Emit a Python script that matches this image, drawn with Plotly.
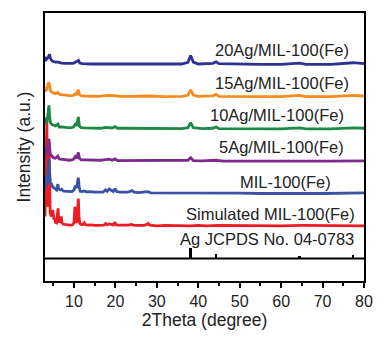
import plotly.graph_objects as go

# ---------------- data ----------------
names = ["Simulated MIL-100(Fe)", "MIL-100(Fe)", "5Ag/MIL-100(Fe)",
         "10Ag/MIL-100(Fe)", "15Ag/MIL-100(Fe)", "20Ag/MIL-100(Fe)"]
offsets = [1, 2, 3, 4, 5, 6]
colors = ["#ed1c24", "#3a53a4", "#7d2b8b", "#1b8a44", "#f58a1f", "#2e3192"]

sim_x = [3.0, 3.2, 3.35, 3.45, 3.55, 3.7, 3.85, 4.0, 4.1, 4.25, 4.5, 4.7, 4.85, 5.0, 5.2, 5.35,
         5.5, 5.8, 6.0, 6.15, 6.3, 6.5, 6.7, 6.9, 7.1, 7.4, 7.8, 8.3, 9.0, 9.6, 10.0, 10.2, 10.35,
         10.5, 10.7, 10.9, 11.05, 11.2, 11.4, 11.7, 12.1, 12.5, 12.8, 13.3, 14.0, 15.0, 16.0, 17.2,
         17.6, 18.0, 18.5, 19.0, 19.5, 19.9, 20.1, 20.4, 21.0, 22.0, 23.0, 24.0, 24.3, 25.0, 26.0,
         27.0, 27.6, 27.9, 28.3, 29.0, 30.0, 32.0, 34.0, 36.0, 38.0, 40.0, 42.0, 45.0, 50.0, 55.0,
         60.0, 65.0, 70.0, 75.0, 80.0]
sim_y = [0.3, 1.5, 3.3, 3.3, 1.2, 0.6, 1.8, 2.6, 1.5, 0.4, 0.3, 0.35, 0.5, 0.25, 0.2, 0.25,
         0.12, 0.1, 0.3, 0.55, 0.2, 0.12, 0.15, 0.3, 0.1, 0.06, 0.05, 0.04, 0.03, 0.04, 0.1, 0.6, 0.35,
         0.1, 0.15, 0.5, 0.85, 0.3, 0.08, 0.05, 0.04, 0.1, 0.04, 0.03, 0.04, 0.02, 0.03, 0.03,
         0.08, 0.04, 0.07, 0.05, 0.04, 0.12, 0.05, 0.03, 0.03, 0.02, 0.03, 0.05, 0.03, 0.02, 0.03,
         0.02, 0.06, 0.08, 0.03, 0.02, 0.01, 0.02, 0.01, 0.02, 0.01, 0.02, 0.01, 0.02, 0.01, 0.02,
         0.01, 0.02, 0.01, 0.02, 0.01]

mil_x = [3.0, 3.2, 3.4, 3.55, 3.75, 3.95, 4.1, 4.3, 4.6, 4.9, 5.2, 5.5, 5.8, 6.1, 6.3, 6.7, 7.0,
         7.5, 8.0, 8.5, 9.0, 9.5, 10.0, 10.3, 10.6, 10.9, 11.05, 11.25, 11.5, 12.0, 12.5, 13.0, 14.0,
         15.0, 16.0, 17.0, 17.6, 18.0, 18.5, 19.0, 19.5, 19.9, 20.3, 21.0, 22.0, 23.0, 24.0, 24.5,
         25.5, 26.5, 27.8, 28.5, 30.0, 32.0, 34.0, 36.0, 38.0, 40.0, 43.0, 46.0, 50.0, 55.0, 60.0,
         65.0, 70.0, 75.0, 80.0]
mil_y = [0.15, 0.4, 0.55, 0.3, 0.6, 1.1, 0.7, 0.35, 0.3, 0.2, 0.18, 0.15, 0.12, 0.3, 0.15, 0.12, 0.14,
         0.08, 0.08, 0.07, 0.06, 0.07, 0.12, 0.25, 0.18, 0.4, 0.5, 0.2, 0.08, 0.07, 0.09, 0.06, 0.07,
         0.05, 0.06, 0.05, 0.12, 0.08, 0.15, 0.1, 0.07, 0.16, 0.07, 0.05, 0.04, 0.05, 0.1, 0.05,
         0.04, 0.05, 0.07, 0.03, 0.03, 0.04, 0.02, 0.03, 0.02, 0.03, 0.02, 0.02, 0.02, 0.01, 0.02,
         0.01, 0.01, 0.01, 0.03]

ag5_x = [3.0, 3.2, 3.4, 3.55, 3.75, 3.95, 4.1, 4.3, 4.6, 5.0, 5.5, 6.1, 6.4, 7.0, 8.0, 9.0, 9.8,
         10.3, 10.6, 10.9, 11.05, 11.3, 11.7, 12.5, 14.0, 15.0, 16.5, 17.6, 18.5, 19.2, 19.9, 20.5,
         22.0, 24.0, 26.0, 28.0, 30.0, 33.0, 36.0, 37.5, 38.15, 38.8, 41.0, 44.3, 46.0, 50.0, 55.0,
         60.0, 64.4, 68.0, 72.0, 77.4, 80.0]
ag5_y = [0.1, 0.3, 0.45, 0.3, 0.5, 0.7, 0.45, 0.2, 0.18, 0.12, 0.1, 0.17, 0.08, 0.07, 0.05, 0.04, 0.06,
         0.15, 0.1, 0.22, 0.28, 0.1, 0.05, 0.05, 0.04, 0.03, 0.04, 0.06, 0.07, 0.04, 0.08, 0.03,
         0.03, 0.04, 0.03, 0.04, 0.02, 0.03, 0.02, 0.04, 0.12, 0.03, 0.02, 0.04, 0.01, 0.02, 0.01,
         0.01, 0.02, 0.01, 0.01, 0.02, 0.02]

ag10_x = [3.0, 3.2, 3.35, 3.55, 3.75, 3.95, 4.1, 4.3, 4.6, 5.0, 5.5, 6.1, 6.4, 7.0, 8.0, 9.0, 9.8,
          10.3, 10.6, 10.9, 11.05, 11.3, 11.7, 12.5, 14.0, 15.0, 16.5, 17.6, 18.5, 19.2, 19.9, 20.5,
          22.0, 24.0, 26.0, 28.0, 30.0, 33.0, 36.0, 37.5, 38.15, 38.8, 41.0, 43.5, 44.3, 45.0, 50.0,
          55.0, 60.0, 64.4, 66.0, 72.0, 77.4, 80.0]
ag10_y = [0.15, 0.37, 0.2, 0.3, 0.5, 0.74, 0.45, 0.2, 0.15, 0.12, 0.1, 0.16, 0.07, 0.07, 0.05, 0.04, 0.06,
          0.15, 0.1, 0.28, 0.38, 0.1, 0.05, 0.04, 0.04, 0.03, 0.03, 0.06, 0.06, 0.04, 0.08, 0.03,
          0.03, 0.03, 0.02, 0.04, 0.02, 0.03, 0.02, 0.05, 0.2, 0.05, 0.02, 0.03, 0.07, 0.02, 0.01,
          0.01, 0.01, 0.04, 0.01, 0.01, 0.04, 0.03]

ag15_x = [3.0, 3.2, 3.35, 3.6, 3.85, 4.05, 4.3, 4.6, 5.0, 5.5, 6.1, 6.5, 7.0, 8.0, 9.0, 9.8, 10.3,
          10.6, 10.9, 11.05, 11.3, 11.7, 12.5, 14.0, 16.0, 17.6, 18.5, 19.9, 21.0, 24.0, 28.0, 32.0,
          36.0, 37.5, 38.15, 38.8, 40.0, 43.5, 44.3, 45.0, 50.0, 55.0, 60.0, 64.4, 66.0, 72.0, 77.4, 80.0]
ag15_y = [0.15, 0.3, 0.2, 0.3, 0.45, 0.4, 0.2, 0.15, 0.12, 0.1, 0.14, 0.08, 0.07, 0.05, 0.04, 0.05, 0.1,
          0.08, 0.15, 0.22, 0.07, 0.04, 0.03, 0.02, 0.02, 0.04, 0.05, 0.04, 0.02, 0.02, 0.03, 0.01,
          0.02, 0.05, 0.22, 0.06, 0.02, 0.03, 0.08, 0.02, 0.01, 0.01, 0.01, 0.05, 0.01, 0.01, 0.05, 0.03]

ag20_x = [3.0, 3.2, 3.5, 3.8, 4.1, 4.3, 4.6, 5.0, 5.5, 6.2, 7.0, 8.0, 9.0, 9.8, 10.4, 10.9, 11.1,
          11.4, 12.0, 14.0, 16.0, 18.0, 20.0, 24.0, 28.0, 32.0, 36.0, 37.5, 38.15, 38.8, 40.0, 43.5,
          44.3, 45.0, 50.0, 55.0, 60.0, 64.4, 66.0, 72.0, 77.4, 80.0]
ag20_y = [0.1, 0.2, 0.18, 0.25, 0.32, 0.2, 0.13, 0.1, 0.08, 0.08, 0.05, 0.04, 0.03, 0.04, 0.08, 0.12, 0.13,
          0.05, 0.03, 0.02, 0.02, 0.02, 0.02, 0.02, 0.02, 0.01, 0.02, 0.07, 0.28, 0.08, 0.02, 0.04,
          0.09, 0.03, 0.01, 0.01, 0.01, 0.05, 0.01, 0.01, 0.06, 0.03]

series_x = [sim_x, mil_x, ag5_x, ag10_x, ag15_x, ag20_x]
series_y = [sim_y, mil_y, ag5_y, ag10_y, ag15_y, ag20_y]

ag_ref_pos = [38.1, 44.3, 64.4, 77.4]
ag_ref_int = [0.31, 0.15, 0.08, 0.09]
ag_ref_label = "Ag JCPDS No. 04-0783"

x_ticks = [10, 20, 30, 40, 50, 60, 70, 80]

# label placement (data coords)
label_x = [57.45, 60.96, 60.1, 58.9, 60.1, 60.1]
label_y = [1.39, 2.37, 3.46, 4.44, 5.42, 6.45]

# ---------------- figure ----------------
FONT = "Arial, Liberation Sans, sans-serif"
fig = go.Figure()

for xs, ys, off, col, nm in zip(series_x, series_y, offsets, colors, names):
    fig.add_trace(go.Scatter(x=xs, y=[v + off for v in ys], mode="lines",
                             line=dict(color=col, width=2.8), name=nm,
                             showlegend=False, hoverinfo="skip"))

fig.add_trace(go.Bar(x=ag_ref_pos, y=ag_ref_int, width=0.55, base=0,
                     marker=dict(color="black", line=dict(width=0)),
                     showlegend=False, hoverinfo="skip"))

fig.add_shape(type="line", xref="paper", x0=0, x1=1, yref="y", y0=0, y1=0,
              line=dict(color="black", width=2))

for nm, lx, ly in zip(names, label_x, label_y):
    fig.add_annotation(x=lx, y=ly, text=nm, showarrow=False, xanchor="center",
                       yanchor="middle", font=dict(family=FONT, size=16.5, color="#222"))
fig.add_annotation(x=56.7, y=0.59, text=ag_ref_label, showarrow=False, xanchor="center",
                   yanchor="middle", font=dict(family=FONT, size=16.5, color="#222"))

# page body has an 8px margin, so the figure is drawn 8px in from the window edge
fig.update_layout(
    width=379, height=330,
    margin=dict(l=37, r=23, t=5, b=57, autoexpand=False),
    paper_bgcolor="white", plot_bgcolor="white",
    font=dict(family=FONT, color="#222"),
    bargap=0,
)
fig.update_xaxes(range=[3, 80], tickvals=x_ticks, ticks="outside", ticklen=5, tickwidth=1.5,
                 tickcolor="black", showline=True, linecolor="black", linewidth=2, mirror=True,
                 showgrid=False, zeroline=False, automargin=False,
                 tickfont=dict(family=FONT, size=16, color="#222"),
                 minor=dict(tickvals=[5, 15, 25, 35, 45, 55, 65, 75], ticks="outside", ticklen=3,
                            tickwidth=1.5, tickcolor="black"),
                 title=dict(text="2Theta (degree)", font=dict(family=FONT, size=17.5, color="#222"),
                            standoff=1))
fig.update_yaxes(range=[-0.70, 7.60], showticklabels=False, ticks="", showline=True,
                 linecolor="black", linewidth=2, mirror=True, showgrid=False, zeroline=False,
                 automargin=False,
                 title=dict(text="Intensity (a.u.)", font=dict(family=FONT, size=17.5, color="#222"),
                            standoff=8))

fig.write_html("out.html")
